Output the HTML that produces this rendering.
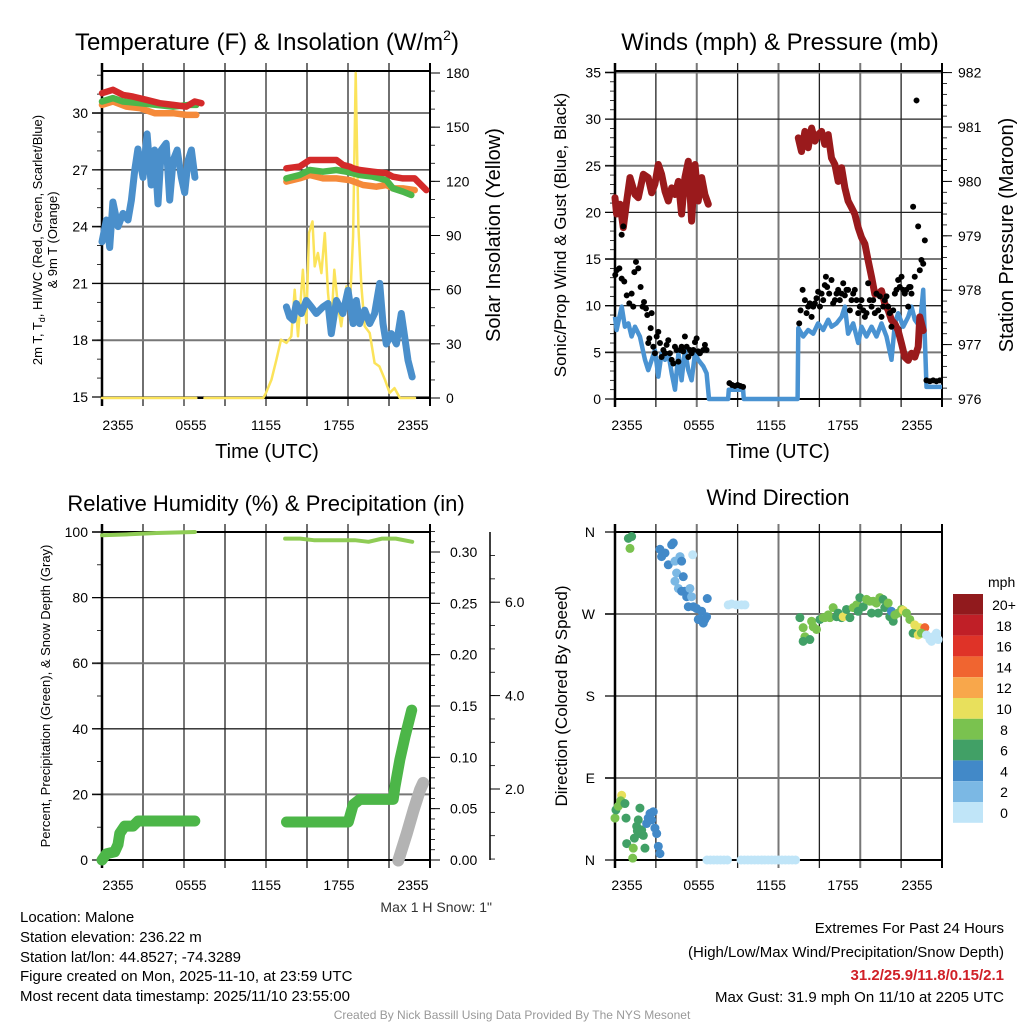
<!DOCTYPE html>
<html><head><meta charset="utf-8"><style>
body{margin:0;background:#fff}
svg{display:block;font-family:"Liberation Sans",Arial,sans-serif}
</style></head><body>
<svg id="c" width="1024" height="1024" viewBox="0 0 1024 1024" xmlns="http://www.w3.org/2000/svg">
<rect width="1024" height="1024" fill="#fff"/>
<g id="g1"></g>
<g id="g2"></g>
<g id="g3"></g>
<g id="g4"></g>
<text x="267" y="50" font-size="24" text-anchor="middle">Temperature (F) &amp; Insolation (W/m<tspan font-size="14" dy="-10">2</tspan><tspan dy="10">)</tspan></text>
<text x="780" y="50" font-size="24" text-anchor="middle">Winds (mph) &amp; Pressure (mb)</text>
<text x="266" y="511" font-size="22" text-anchor="middle">Relative Humidity (%) &amp; Precipitation (in)</text>
<text x="778" y="505" font-size="22" text-anchor="middle">Wind Direction</text>
<text x="267" y="458" font-size="20" text-anchor="middle">Time (UTC)</text>
<text x="778" y="458" font-size="20" text-anchor="middle">Time (UTC)</text>
<text transform="translate(42,240) rotate(-90)" font-size="13" text-anchor="middle">2m T, T<tspan font-size="9" dy="3">d</tspan><tspan dy="-3">, HI/WC (Red, Green, Scarlet/Blue)</tspan></text>
<text transform="translate(57,240) rotate(-90)" font-size="13" text-anchor="middle">&amp; 9m T (Orange)</text>
<text transform="translate(500,235) rotate(-90)" font-size="20" text-anchor="middle">Solar Insolation (Yellow)</text>
<text transform="translate(566,235) rotate(-90)" font-size="17" text-anchor="middle">Sonic/Prop Wind &amp; Gust (Blue, Black)</text>
<text transform="translate(1013,235) rotate(-90)" font-size="20" text-anchor="middle">Station Pressure (Maroon)</text>
<text transform="translate(50,696) rotate(-90)" font-size="13" text-anchor="middle">Percent, Precipitation (Green), &amp; Snow Depth (Gray)</text>
<text transform="translate(567,696) rotate(-90)" font-size="17" text-anchor="middle">Direction (Colored By Speed)</text>
<text x="492" y="912" font-size="14" text-anchor="end" fill="#333">Max 1 H Snow: 1"</text>
<g font-size="15">
<text x="20" y="922">Location: Malone</text>
<text x="20" y="942">Station elevation: 236.22 m</text>
<text x="20" y="962">Station lat/lon: 44.8527; -74.3289</text>
<text x="20" y="981">Figure created on Mon, 2025-11-10, at 23:59 UTC</text>
<text x="20" y="1001">Most recent data timestamp: 2025/11/10 23:55:00</text>
</g>
<g font-size="15" text-anchor="end">
<text x="1004" y="933">Extremes For Past 24 Hours</text>
<text x="1004" y="957">(High/Low/Max Wind/Precipitation/Snow Depth)</text>
<text x="1004" y="980" fill="#d02027" font-weight="bold">31.2/25.9/11.8/0.15/2.1</text>
<text x="1004" y="1002">Max Gust: 31.9 mph On 11/10 at 2205 UTC</text>
</g>
<text x="512" y="1019" font-size="12" fill="#999" text-anchor="middle">Created By Nick Bassill Using Data Provided By The NYS Mesonet</text>
</svg>
<script>
// ---- Temperature panel data (hours since 2355 UTC) ----
const redH=[0,0.8,1.54,2.27,3.24,4.22,5.2,6.17,6.78,7.27,null,13.49,14.46,15.2,16.17,17.15,17.63,18.12,18.37,18.85,19.83,20.8,21.29,22.02,22.88,23.73];
const redT=[31.05,31.23,30.96,30.87,30.70,30.52,30.43,30.34,30.61,30.52,null,27.08,27.17,27.52,27.52,27.52,27.26,27.17,27.08,26.99,26.90,26.82,26.64,26.55,26.55,25.93];
const grnH=[0,0.8,1.54,2.76,3.98,5.2,6.41,6.9,null,13.49,14.46,15.2,16.17,17.15,17.88,18.85,19.83,20.8,21.29,22.02,22.63];
const grnT=[30.61,30.79,30.61,30.52,30.43,30.34,30.43,30.43,null,26.55,26.73,26.99,26.90,26.99,26.90,26.73,26.64,26.46,26.02,25.85,25.67];
const orgH=[0,0.8,1.78,2.76,3.85,5.2,6.17,6.9,null,13.49,14.46,15.2,16.17,17.15,18.12,19.1,20.07,20.8,21.29,22.02,22.88];
const orgT=[30.43,30.61,30.34,30.26,29.99,29.99,29.90,29.90,null,26.38,26.55,26.73,26.55,26.55,26.46,26.20,26.11,26.20,26.02,26.02,25.93];
const tdH=[0,0.32,0.56,0.8,1.17,1.54,1.9,2.15,2.4,2.63,3,3.3,3.6,3.85,4.1,4.34,4.7,4.95,5.2,5.5,5.8,6.05,6.3,6.54,6.8,null,13.49,13.73,13.98,14.22,14.59,14.95,15.32,15.68,16.17,16.54,16.78,17.15,17.63,18.0,18.37,18.61,18.85,19.22,19.59,19.95,20.32,20.56,20.8,21.17,21.54,21.9,22.15,22.39,22.7];
const tdT=[23.2,24.35,22.9,25.3,24.0,24.7,24.35,25.4,27.0,28.1,26.6,28.9,26.2,28.05,25.2,28.05,28.4,25.4,27.5,28.05,26.6,25.8,27.5,28.05,26.6,null,19.76,19.23,19.06,19.94,19.41,20.1,19.76,19.41,19.76,19.94,18.35,20.1,19.41,20.64,18.88,20.1,18.88,19.59,18.88,19.41,21.0,18.88,17.8,18.35,17.8,19.41,18.17,16.94,16.06];
const solH=[0,6.9,null,7.5,11.8,12.0,12.4,12.76,13.1,13.5,13.85,14.1,14.34,14.7,14.95,15.15,15.4,15.56,15.8,16.05,16.3,16.54,16.78,17.0,17.27,17.5,17.88,18.12,18.37,18.56,18.76,18.98,19.22,19.59,19.95,20.3,20.7,21.05,21.4,21.8,22.9];
const solW=[0,0,null,0,0,2.8,10.2,21.2,32.3,30.5,34.2,60,34.2,71,41.5,91.4,97.8,72.9,80.3,69.2,91.4,58.2,39.7,71,50.8,39.7,61.8,47.1,89.5,180,95,61.8,39.7,36,19.4,17.5,10.2,2.8,5.5,0,0];
const tempTicks=[15,18,21,24,27,30];
const solarTicks=[0,30,60,90,120,150,180];
const timeLabels=["2355","0555","1155","1755","2355"];
// ---- Wind panel data ----
const windH=[0,0.12,0.49,0.73,0.98,1.22,1.47,1.83,2.2,2.44,2.69,2.93,3.18,3.42,3.67,3.91,4.16,4.4,4.65,4.89,5.13,5.38,5.62,5.87,6.11,6.48,6.72,6.9,8.3,8.35,9.4,9.45,13.4,13.45,13.81,14.18,14.55,14.91,15.28,15.65,15.89,16.26,16.63,16.87,17.11,17.48,17.85,18.09,18.46,18.83,19.19,19.56,19.93,20.29,20.54,20.78,21.15,21.52,21.76,22.0,22.37,22.62,22.86,23.11,24];
const windV=[8.8,7.4,9.9,7.75,8.1,6.7,7.75,6.7,4.2,3.1,4.2,5.25,2.4,4.9,4.2,4.9,2.75,1.0,4.9,2.0,5.25,3.1,2.0,4.9,4.2,3.5,2.75,0,0,1.0,1.0,0,0,7.6,6.7,7.4,7.0,8.1,7.4,8.5,7.75,8.1,8.8,9.9,7.0,8.1,6.0,7.75,6.7,7.75,6.7,8.1,6.7,4.2,8.1,9.2,7.75,8.8,9.9,8.5,7.75,11.7,1.3,1.3,1.3];
const presH=[0,0.12,0.37,0.61,0.86,1.1,1.47,1.71,2.08,2.44,2.69,2.93,3.18,3.42,3.67,3.91,4.16,4.4,4.65,4.89,5.13,5.38,5.62,5.87,6.11,6.36,6.6,6.85,null,13.45,13.69,13.94,14.18,14.43,14.67,14.91,15.16,15.4,15.65,15.89,16.14,16.38,16.63,16.87,17.11,17.36,17.6,17.85,18.09,18.34,18.58,18.83,19.07,19.32,19.56,19.8,20.05,20.29,20.54,20.78,21.03,21.27,21.52,21.76,22.0,22.25,22.37,22.62];
const presV=[979.70,979.40,979.58,979.15,979.64,980.07,979.76,979.70,980.13,980.07,979.79,979.95,980.31,980.13,979.82,979.64,979.88,979.76,980.0,979.40,980.07,980.37,979.27,980.31,979.64,980.07,979.76,979.58,null,980.80,980.55,980.92,980.62,980.98,980.74,980.86,980.92,980.68,980.86,980.43,980.31,980.0,980.25,979.88,979.64,979.52,979.40,979.15,978.97,978.85,978.54,978.24,977.93,977.93,977.99,977.75,977.63,977.45,977.38,977.26,977.02,976.77,976.71,976.84,976.77,976.96,977.51,977.26];
const gustH=[0.02,0.12,0.32,0.49,0.49,0.61,0.68,0.86,1.05,1.22,1.34,1.42,1.54,1.71,1.88,2.03,2.13,2.27,2.37,2.44,2.52,2.62,2.69,2.81,2.93,3.06,3.18,3.3,3.42,3.55,3.67,3.79,3.91,4.03,4.16,4.28,4.4,4.52,4.65,4.77,4.89,5.01,5.13,5.26,5.38,5.5,5.62,5.75,5.87,5.99,6.11,6.23,6.48,6.6,6.72,8.4,8.6,8.8,9.0,9.2,9.4,13.52,13.62,13.77,13.94,14.06,14.18,14.3,14.43,14.55,14.67,14.79,14.91,15.04,15.16,15.28,15.4,15.48,15.57,15.72,15.89,16.01,16.14,16.26,16.38,16.5,16.63,16.75,16.87,16.99,17.11,17.24,17.36,17.48,17.6,17.73,17.85,17.97,18.09,18.22,18.34,18.46,18.58,18.7,18.83,18.95,19.07,19.19,19.32,19.44,19.56,19.68,19.8,19.93,20.05,20.17,20.29,20.42,20.54,20.66,20.78,20.9,21.03,21.15,21.27,21.39,21.52,21.59,21.69,21.76,21.88,22.0,22.13,22.25,22.37,22.49,22.62,22.74,22.86,23.11,23.35,23.59,23.84];
const gustV=[13.3,13.8,14.0,12.9,17.6,18.5,12.6,11.1,10.25,11.3,9.9,13.6,14.7,14.0,12.0,9.9,10.4,9.7,9.0,6.0,6.5,7.6,9.2,5.6,4.9,6.7,7.2,6.0,4.5,5.25,4.9,5.8,6.3,4.9,4.2,3.8,5.6,5.25,4.0,5.25,5.6,5.1,6.7,5.6,4.5,5.25,4.9,5.25,6.1,6.5,5.1,4.9,5.25,5.8,5.25,1.7,1.5,1.4,1.5,1.4,1.3,8.1,9.5,11.7,10.6,9.2,9.9,10.25,8.8,9.9,10.25,10.8,11.5,9.9,11.3,10.6,12.2,13.1,12.0,11.3,12.75,10.25,10.6,11.3,11.7,10.6,11.3,12.4,11.1,11.7,11.7,9.5,10.6,11.3,11.7,10.6,9.2,9.9,10.6,9.5,8.8,9.2,12.4,10.6,9.9,10.6,9.2,11.3,9.5,11.0,8.8,9.9,10.6,11.0,9.9,9.2,7.75,9.5,11.3,11.7,12.75,12.0,13.1,11.7,11.3,11.7,9.9,12.0,12.0,11.3,20.6,13.1,32.0,18.5,13.8,14.9,14.5,17.0,2.0,1.9,2.0,1.9,2.0];
const windTicks=[0,5,10,15,20,25,30,35];
const presTicks=[976,977,978,979,980,981,982];
// ---- Humidity / precip panel data ----
const rhH=[0,2,4,6.8,null,13.4,14.5,15.5,16.5,17.5,18.5,19.5,20.5,21.5,22.7];
const rhV=[99,99.3,99.7,100,null,98,98,97.5,97.5,97.5,97.5,97,98,98,97];
const prH=[0,0.32,0.93,1.17,1.3,1.66,2.27,2.64,6.79,null,13.5,18.02,18.38,18.87,21.31,21.43,21.8,22.17,22.66];
const prV=[0,0.006,0.008,0.015,0.026,0.033,0.033,0.038,0.038,null,0.037,0.037,0.054,0.059,0.059,0.071,0.098,0.12,0.146];
const snH=[21.68,22.3,22.8,23.27,23.5];
const snV=[0.47,1.05,1.55,1.98,2.13];
const rhTicks=[0,20,40,60,80,100];
const prTicks=[0,0.05,0.10,0.15,0.20,0.25,0.30];
const snTicks=[2.0,4.0,6.0];
// ---- Wind direction panel data ----
const dirH=[0.0,0.07,0.24,0.49,0.42,0.73,0.81,0.86,1.34,1.3,1.42,1.59,1.71,1.83,1.96,2.08,2.2,2.32,2.44,2.57,2.69,2.81,2.93,3.06,3.18,3.3,1.83,1.64,
0.98,1.22,1.1,3.3,3.42,3.67,3.91,4.16,4.28,4.4,4.77,4.89,4.52,5.01,4.4,4.65,4.89,5.13,5.5,5.26,5.62,5.38,5.75,5.99,6.36,6.11,6.6,6.48,6.23,6.77,5.7,6.72,
8.31,8.56,8.92,9.29,9.54,
6.75,7.0,7.25,7.5,7.75,8.0,8.25,9.25,9.5,9.75,10.0,10.25,10.5,10.75,11.0,11.25,11.5,11.75,12.0,12.25,12.5,12.75,13.0,13.25,
13.57,13.81,13.94,13.81,14.3,14.43,14.55,14.79,15.04,15.28,15.4,15.65,15.77,16.01,16.26,16.38,16.63,16.75,16.99,17.24,17.48,17.73,17.85,17.97,18.22,18.46,18.7,18.83,18.95,19.19,19.32,19.44,19.68,19.8,20.05,20.17,20.29,20.42,20.54,20.78,21.03,21.15,21.39,21.64,21.88,22.0,22.25,22.37,22.74,22.49,22.86,23.11,23.35,23.59,23.72,23.23];
const dirDeg=[46,55,59,71,65,62,46,18,13,2,24,37,44,57,33,27,13,40,46,51,44,53,35,29,15,7,29,32,
353,355,342,341,333,337,324,346,348,328,333,328,315,311,306,298,295,295,298,289,289,278,278,276,273,264,264,260,264,287,335,267,
280,281,280,280,280,
0,0,0,0,0,0,0,0,0,0,0,0,0,0,0,0,0,0,0,0,0,0,0,0,
266,255,245,240,242,262,256,253,264,266,266,269,266,277,267,271,266,267,275,266,277,280,273,288,278,286,284,271,284,282,271,288,286,277,282,267,273,262,269,271,275,274,271,264,249,258,247,255,255,249,247,242,245,249,242,240];
const dirSpd=[8,7,8,10,8,6,6,6,8,8,6,6,6,6,6,6,6,4,4,4,4,4,4,4,4,4,6,6,
6,6,8,4,4,4,4,4,4,2,2,4,2,4,2,2,4,4,2,4,2,4,4,4,4,4,4,4,4,4,0,4,
0,0,0,0,0,
0,0,0,0,0,0,0,0,0,0,0,0,0,0,0,0,0,0,0,0,0,0,0,0,
6,8,8,6,6,8,8,8,6,8,8,8,8,8,6,6,6,10,6,6,8,8,6,6,6,8,8,6,8,8,6,8,6,6,8,6,4,6,8,8,8,10,8,8,6,10,10,10,14,8,0,0,0,0,0,0];
const speedBins=["20+","18","16","14","12","10","8","6","4","2","0"];
const binColors=["#911a1d","#c01f27","#df3328","#f06530","#f8a74b","#e8e05c","#7ac24f","#41a066","#4289c8","#7bb8e4","#c0e5f8"];
const dirTicks=["N","W","S","E","N"];

const NS="http://www.w3.org/2000/svg";
function mk(parent,tag,attrs){const e=document.createElementNS(NS,tag);for(const k in attrs)e.setAttribute(k,attrs[k]);parent.appendChild(e);return e;}
function pathFrom(hs,vs,fx,fy){let d="",pen=false;for(let i=0;i<hs.length;i++){if(hs[i]===null||vs[i]===null){pen=false;continue;}d+=(pen?"L":"M")+fx(hs[i]).toFixed(1)+","+fy(vs[i]).toFixed(1);pen=true;}return d;}

function frame(g,L,R,T,B,hLines,xLabelPos,labelY){
  for(let i=1;i<8;i++){const x=L+i*(R-L)/8;
    const l=mk(g,"line",{x1:x,x2:x,y1:T-8,y2:B+8,stroke:i%2?"#222":"#777","stroke-width":i%2?1.3:2});
    }
  hLines.forEach((y,i)=>{const l=mk(g,"line",{x1:L-10,x2:R,y1:y,y2:y,stroke:i%2?"#777":"#222","stroke-width":i%2?2:1.3});
    });
  const r=mk(g,"rect",{x:L,y:T,width:R-L,height:B-T,fill:"none",stroke:"#000","stroke-width":2});
  
  mk(g,"line",{x1:L,x2:L,y1:T-8,y2:B+8,stroke:"#000","stroke-width":2.5});
  mk(g,"line",{x1:R,x2:R,y1:T-8,y2:B+8,stroke:"#000","stroke-width":2});
  timeLabels.forEach((t,i)=>{const tx=mk(g,"text",{x:xLabelPos[i],y:labelY,"font-size":14,"text-anchor":"middle"});tx.textContent=t;
    });
}
function ticksSide(g,x,dir,vals,fy,fmt,minorStep,lo,hi,labelOff){
  vals.forEach(v=>{const y=fy(v);mk(g,"line",{x1:x,x2:x+dir*10,y1:y,y2:y,stroke:"#000","stroke-width":1});
    const t=mk(g,"text",{x:x+dir*labelOff,y:y+5,"font-size":14,"text-anchor":dir<0?"end":"start"});t.textContent=fmt(v);
    });
  for(let v=lo;v<=hi+1e-9;v+=minorStep){const y=fy(v);mk(g,"line",{x1:x,x2:x+dir*5,y1:y,y2:y,stroke:"#000","stroke-width":0.8});}
}

// Panel 1
(function(){
  const g=document.getElementById("g1");const L=102,R=430,T=71,B=398;
  const fx=h=>L+h*(R-L)/24, fy=v=>397-(v-15)*18.93, fs=v=>398-v*325/180;
  frame(g,L,R,T,B,tempTicks.map(fy),[118,191,266,339,413],430);
  ticksSide(g,L-0,-1,tempTicks,fy,v=>v,1,15,32,14);
  ticksSide(g,R,1,solarTicks,fs,v=>v,10,0,180,16);
  const s=[[solH,solW,fs,"#fbe35a",2.5,"solar-line"],[tdH,tdT,fy,"#4a8fcb",7,"dewpoint-line"],[orgH,orgT,fy,"#f58a3a",6.5,"9m-temp-line"],[grnH,grnT,fy,"#4cb64a",6.5,"heat-index-line"],[redH,redT,fy,"#d42a2a",6.5,"temperature-line"]];
  s.forEach(a=>{const p=mk(g,"path",{d:pathFrom(a[0],a[1],fx,a[2]),fill:"none",stroke:a[3],"stroke-width":a[4],"stroke-linejoin":"round","stroke-linecap":"round"});
    });
})();
// Panel 2
(function(){
  const g=document.getElementById("g2");const L=615,R=942,T=71,B=399;
  const fx=h=>L+h*(R-L)/24, fy=v=>399-v*9.33, fp=v=>399-(v-976)*54.4;
  frame(g,L,R,T,B,windTicks.map(fy),[627,699,771,843,917],430);
  ticksSide(g,L,-1,windTicks,fy,v=>v,1,0,35,14);
  ticksSide(g,R,1,presTicks,fp,v=>v,0.2,976,982,16);
  let p=mk(g,"path",{d:pathFrom(windH,windV,fx,fy),fill:"none",stroke:"#4a93d2","stroke-width":4.5,"stroke-linejoin":"round"});
  
  p=mk(g,"path",{d:pathFrom(presH,presV,fx,fp),fill:"none",stroke:"#9a1a1c","stroke-width":7,"stroke-linejoin":"round","stroke-linecap":"round"});
  
  gustH.forEach((h,i)=>{const c=mk(g,"circle",{cx:fx(h),cy:fy(gustV[i]),r:3,fill:"#000"});
    });
})();
// Panel 3
(function(){
  const g=document.getElementById("g3");const L=102,R=430,T=532,B=860;
  const fx=h=>L+h*(R-L)/24, fy=v=>860-v*3.28, fpr=v=>860-v*1026.7, fsn=v=>789-(v-2)*46.7;
  frame(g,L,R,T,B,rhTicks.map(fy),[118,191,266,339,413],890);
  ticksSide(g,L,-1,rhTicks,fy,v=>v,10,0,100,14);
  ticksSide(g,R,1,prTicks,fpr,v=>v.toFixed(2),0.01,0,0.32,20);
  mk(g,"line",{x1:490,x2:490,y1:532,y2:860,stroke:"#000","stroke-width":1.5});
  snTicks.forEach(v=>{const y=fsn(v);mk(g,"line",{x1:490,x2:500,y1:y,y2:y,stroke:"#000"});
    const t=mk(g,"text",{x:505,y:y+5,"font-size":14});t.textContent=v.toFixed(1);
    });
  for(let v=0.5;v<=7;v+=0.5){const y=fsn(v);if(y>=532&&y<=860)mk(g,"line",{x1:490,x2:495,y1:y,y2:y,stroke:"#000","stroke-width":0.8});}
  let p=mk(g,"path",{d:pathFrom(snH,snV,fx,fsn),fill:"none",stroke:"#b3b3b3","stroke-width":12,"stroke-linecap":"round","stroke-linejoin":"round"});
  
  p=mk(g,"path",{d:pathFrom(prH,prV,fx,fpr),fill:"none",stroke:"#4cb648","stroke-width":11,"stroke-linecap":"round","stroke-linejoin":"round"});
  
  p=mk(g,"path",{d:pathFrom(rhH,rhV,fx,fy),fill:"none",stroke:"#8fcc55","stroke-width":4,"stroke-linecap":"round","stroke-linejoin":"round"});
  
})();
// Panel 4
(function(){
  const g=document.getElementById("g4");const L=615,R=942,T=532,B=860;
  const fx=h=>L+h*(R-L)/24, fy=d=>860-d*328/360;
  frame(g,L,R,T,B,[0,90,180,270,360].map(fy),[627,699,771,843,917],890);
  dirTicks.forEach((t,i)=>{const y=fy(360-i*90);mk(g,"line",{x1:L-10,x2:L,y1:y,y2:y,stroke:"#000"});
    const tx=mk(g,"text",{x:L-20,y:y+5,"font-size":14,"text-anchor":"end"});tx.textContent=t;
    });
  dirH.forEach((h,i)=>{const s=dirSpd[i];let bi=10-Math.min(10,Math.floor(s/2));
    const c=mk(g,"circle",{cx:fx(h),cy:fy(dirDeg[i]),r:4.5,fill:binColors[bi]});
    });
  const cb=mk(g,"g",{});
  const t0=mk(cb,"text",{x:988,y:587,"font-size":14});t0.textContent="mph";
  speedBins.forEach((s,i)=>{const y=594+i*20.8;mk(cb,"rect",{x:953,y:y,width:30,height:20.8,fill:binColors[i]});
    const t=mk(cb,"text",{x:1004,y:y+16,"font-size":14,"text-anchor":"middle"});t.textContent=s;
    });
})();
</script>
</body></html>
